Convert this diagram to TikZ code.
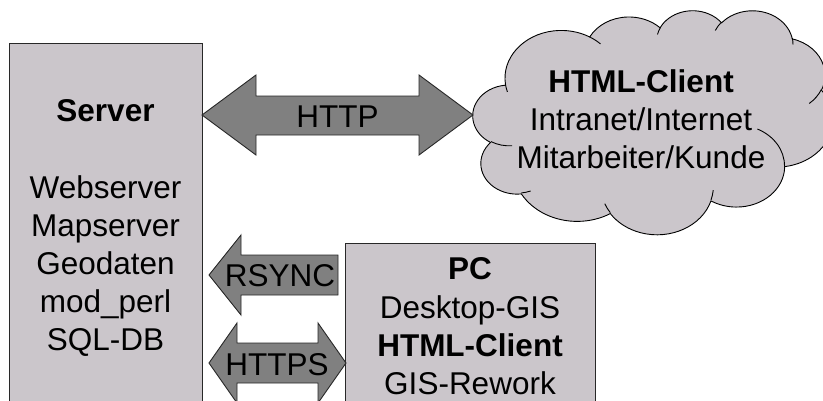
\documentclass[tikz,border=0pt]{standalone}
\usepackage{fontspec}
\setmainfont{Liberation Sans}
\definecolor{boxfill}{RGB}{203,198,203}
\definecolor{arrowfill}{RGB}{128,128,128}
\definecolor{edge}{RGB}{40,40,40}
\newcommand\ooprep[5]{%
  \pgfmathsetmacro\ootmp{#4+#5}%
  \expandafter\pgfmathsetmacro\csname oo#1s\endcsname{(#4) + Mod(atan2((#2)*sin(#4), (#3)*cos(#4)) - (#4) + 180, 360) - 180}%
  \expandafter\pgfmathsetmacro\csname oo#1e\endcsname{(\ootmp) + Mod(atan2((#2)*sin(\ootmp), (#3)*cos(\ootmp)) - (\ootmp) + 180, 360) - 180}%
}
\newcommand\ooarc[3]{arc[start angle=\csname oo#1s\endcsname, end angle=\csname oo#1e\endcsname, x radius=#2, y radius=#3]}
\begin{document}
\begin{tikzpicture}[x=1pt,y=-1pt,
  boxst/.style={draw=edge, line width=0.9pt, fill=boxfill, inner sep=0pt},
  arrowst/.style={draw=edge, line width=0.9pt, fill=arrowfill, line join=miter},
  cloudst/.style={draw=black, line width=0.9pt, fill=boxfill},
  inner/.style={draw=black, line width=0.9pt},
  txt/.style={font=\fontsize{31.5}{38}\selectfont, inner sep=0pt, anchor=base},
  btxt/.style={font=\fontsize{31.5}{38}\selectfont\bfseries, inner sep=0pt, anchor=base}]
\useasboundingbox (0,0) rectangle (823,400);
\clip (0,0) rectangle (823,400);
\fill[white] (0,0) rectangle (823,400);

% Server box
\node[boxst, minimum width=193pt, minimum height=367pt] (server) at (105.5,226.5) {};
\node[btxt] (srvtitle) at (105.5,121) {Server};
\node[txt] (srv1) at (105.5,198) {Webserver};
\node[txt] (srv2) at (105.5,236) {Mapserver};
\node[txt] (srv3) at (105.5,274) {Geodaten};
\node[txt] (srv4) at (105.5,312) {mod\_perl};
\node[txt] (srv5) at (105.5,350) {SQL-DB};

% PC box
\node[boxst, minimum width=250pt, minimum height=167pt] (pc) at (470,326.5) {};
\node[btxt] (pctitle) at (470,279) {PC};
\node[txt] (pc1) at (470,318) {Desktop-GIS};
\node[btxt] (pc2) at (470,356) {HTML-Client};
\node[txt] (pc3) at (470,394) {GIS-Rework};

% Cloud (OOXML cloud geometry)
\begin{scope}[shift={(473,10)}, x=0.8333pt, y=-0.5185pt]
  \ooprep{A}{67.53}{91.90}{-190.487483}{123.780533}
  \ooprep{B}{53.33}{72.67}{-144.102383}{89.945233}
  \ooprep{C}{43.65}{59.45}{-145.807917}{99.723017}
  \ooprep{D}{48.57}{65.95}{-130.986067}{117.241733}
  \ooprep{E}{53.33}{72.73}{-78.708883}{109.026917}
  \ooprep{F}{67.75}{92.20}{-46.26725}{130.269}
  \ooprep{G}{57.85}{78.67}{0.625017}{114.033333}
  \ooprep{H}{67.52}{92.15}{22.4516}{115.17255}
  \ooprep{I}{77.20}{105.43}{66.242633}{75.711017}
  \ooprep{J}{43.60}{59.18}{-274.942083}{146.735567}
  \ooprep{K}{43.45}{59.45}{-246.8285}{152.51885}
  \ooprep{a}{43.45}{59.45}{86.742}{26.4295}
  \ooprep{b}{43.60}{59.18}{73.61047}{11.44747}
  \ooprep{c}{67.52}{92.15}{137.62415}{14.0811}
  \ooprep{d}{67.52}{92.15}{6.45327}{15.99835}
  \ooprep{e}{57.85}{78.67}{-70.29235}{70.91737}
  \ooprep{f}{53.33}{72.73}{30.31803}{27.7515}
  \ooprep{g}{48.57}{65.95}{-13.74433}{14.8589}
  \ooprep{h}{48.57}{65.95}{-149.18145}{18.19537}
  \ooprep{i}{43.65}{59.45}{-163.49427}{17.68635}
  \ooprep{j}{67.53}{91.90}{-66.70695}{12.31935}
  \ooprep{k}{67.53}{91.90}{157.65435}{11.85817}
  \draw[cloudst] (39.00,143.70)
    \ooarc{A}{67.53}{91.90} \ooarc{B}{53.33}{72.67} \ooarc{C}{43.65}{59.45}
    \ooarc{D}{48.57}{65.95} \ooarc{E}{53.33}{72.73} \ooarc{F}{67.75}{92.20}
    \ooarc{G}{57.85}{78.67} \ooarc{H}{67.52}{92.15} \ooarc{I}{77.20}{105.43}
    \ooarc{J}{43.60}{59.18} \ooarc{K}{43.45}{59.45} -- cycle;
  \draw[inner] (46.93,261.77) \ooarc{a}{43.45}{59.45}
    (69.28,348.99) \ooarc{b}{43.60}{59.18}
    (164.78,390.90) \ooarc{c}{67.52}{92.15}
    (288.27,347.51) \ooarc{d}{67.52}{92.15}
    (341.29,229.54) \ooarc{e}{57.85}{78.67}
    (417.98,153.54) \ooarc{f}{53.33}{72.73}
    (383.24,54.26) \ooarc{g}{48.57}{65.95}
    (290.78,39.52) \ooarc{h}{48.57}{65.95}
    (221.41,47.20) \ooarc{i}{43.65}{59.45}
    (140.00,51.92) \ooarc{j}{67.53}{91.90}
    (41.27,157.89) \ooarc{k}{67.53}{91.90};
\end{scope}
\node[btxt] (cl0) at (641,92) {HTML-Client};
\node[txt] (cl1) at (641,130) {Intranet/Internet};
\node[txt] (cl2) at (641,168) {Mitarbeiter/Kunde};

% Block arrows
\draw[arrowst] (202,115) -- (256,75) -- (256,96) -- (419,96) -- (419,75) -- (473,115)
  -- (419,155) -- (419,135) -- (256,135) -- (256,155) -- cycle;
\node[txt] (http) at (337.5,127) {HTTP};

\draw[arrowst] (209,275) -- (241,235) -- (241,255) -- (338,255) -- (338,295)
  -- (241,295) -- (241,315) -- cycle;
\node[txt] (rsync) at (280,286) {RSYNC};

\draw[arrowst] (209,363) -- (237,323) -- (237,343) -- (318,343) -- (318,323) -- (346,363)
  -- (318,403) -- (318,383) -- (237,383) -- (237,403) -- cycle;
\node[txt] (https) at (277,375) {HTTPS};
\end{tikzpicture}
\end{document}
